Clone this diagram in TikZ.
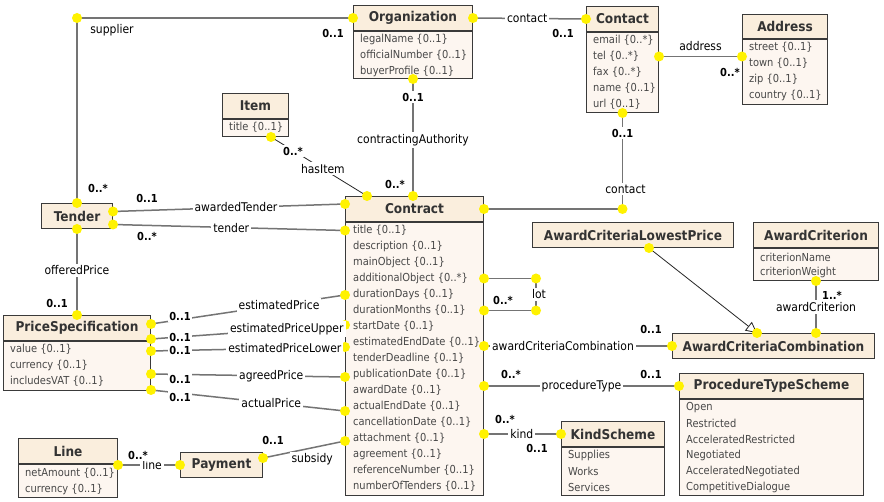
\documentclass[tikz,border=0pt]{standalone}
\usepackage{fontspec}
\setmainfont{DejaVu Sans}[FakeStretch=0.9]
\usetikzlibrary{calc,arrows.meta}

\definecolor{titlefill}{HTML}{FAEEDD}
\definecolor{bodyfill}{HTML}{FDF6F0}
\definecolor{edge}{HTML}{3A3A3A}
\definecolor{linkgray}{HTML}{747474}
\definecolor{dotyellow}{HTML}{FFF200}

\tikzset{
  clstitle/.style={draw=edge, fill=titlefill, line width=1pt, anchor=north west, inner sep=0pt,
    minimum height=25, text=black!80, font=\fontsize{13.5}{14}\selectfont\bfseries},
  clsbody/.style={draw=edge, fill=bodyfill, line width=1pt, anchor=north west, inner sep=0pt},
  attr/.style={anchor=west, inner sep=0pt, text=black!72, font=\fontsize{11}{12}\selectfont},
  assoc/.style={draw=linkgray, line width=1.5pt},
  thinlink/.style={draw=black!85, line width=0.8pt},
  role/.style={fill=white, inner sep=2pt, font=\fontsize{12}{13}\selectfont},
  mult/.style={fill=white, inner sep=1.5pt, font=\fontsize{11}{12}\selectfont\bfseries},
  handle/.style={circle, fill=dotyellow, inner sep=0pt, minimum size=10pt},
}

\begin{document}
\begin{tikzpicture}[x=1pt,y=-1pt]
  \fill[white] (0,0) rectangle (884,502);
  \useasboundingbox (0,0) rectangle (884,502);

  % classes
  \node[clstitle, minimum width=119] (org) at (353,5) {Organization};
  \node[clsbody, minimum width=119, minimum height=47] (org-b) at (org.south west) {};
  \foreach \a/\m [count=\i] in {legalName/1,officialNumber/1,buyerProfile/1}
    \node[attr] (org-\a) at ($(org-b.north west)+(7,{16*\i-7.5})$) {\a\ \{0..\m\}};

  \node[clstitle, minimum width=72] (cnt) at (586,6) {Contact};
  \node[clsbody, minimum width=72, minimum height=80] (cnt-b) at (cnt.south west) {};
  \foreach \a/\m [count=\i] in {email/*,tel/*,fax/*,name/1,url/1}
    \node[attr] (cnt-\a) at ($(cnt-b.north west)+(7,{16*\i-7.5})$) {\a\ \{0..\m\}};

  \node[clstitle, minimum width=85, minimum height=24] (adr) at (742,14) {Address};
  \node[clsbody, minimum width=85, minimum height=65] (adr-b) at (adr.south west) {};
  \foreach \a/\m [count=\i] in {street/1,town/1,zip/1,country/1}
    \node[attr] (adr-\a) at ($(adr-b.north west)+(7,{16*\i-7.5})$) {\a\ \{0..\m\}};

  \node[clstitle, minimum width=66] (item) at (222,93) {Item};
  \node[clsbody, minimum width=66, minimum height=17] (item-b) at (item.south west) {};
  \node[attr] (item-title) at ($(item-b.north west)+(7,8.5)$) {title \{0..1\}};

  \node[clstitle, minimum width=71] (tnd) at (41,203) {Tender};

  \node[clstitle, minimum width=147] (psp) at (3,315) {PriceSpecification};
  \node[clsbody, minimum width=147, minimum height=49] (psp-b) at (psp.south west) {};
  \foreach \a/\m [count=\i] in {value/1,currency/1,includesVAT/1}
    \node[attr] (psp-\a) at ($(psp-b.north west)+(7,{16*\i-7.5})$) {\a\ \{0..\m\}};

  \node[clstitle, minimum width=99] (line) at (18,438) {Line};
  \node[clsbody, minimum width=99, minimum height=33] (line-b) at (line.south west) {};
  \foreach \a/\m [count=\i] in {netAmount/1,currency/1}
    \node[attr] (line-\a) at ($(line-b.north west)+(7,{16*\i-7})$) {\a\ \{0..\m\}};

  \node[clstitle, minimum width=82] (pay) at (180,452) {Payment};

  \node[clstitle, minimum width=138] (con) at (345,196) {Contract};
  \node[clsbody, minimum width=138, minimum height=273] (con-b) at (con.south west) {};
  \foreach \a/\m [count=\i] in {title/1,description/1,mainObject/1,additionalObject/*,durationDays/1,
      durationMonths/1,startDate/1,estimatedEndDate/1,tenderDeadline/1,publicationDate/1,awardDate/1,
      actualEndDate/1,cancellationDate/1,attachment/1,agreement/1,referenceNumber/1,numberOfTenders/1}
    \node[attr] (con-\a) at ($(con-b.north west)+(8,{16*\i-7.5})$) {\a\ \{0..\m\}};

  \node[clstitle, minimum width=201] (aclp) at (532,222) {AwardCriteriaLowestPrice};

  \node[clstitle, minimum width=125] (acr) at (753,222) {AwardCriterion};
  \node[clsbody, minimum width=125, minimum height=32] (acr-b) at (acr.south west) {};
  \foreach \a [count=\i] in {criterionName,criterionWeight}
    \node[attr] (acr-\a) at ($(acr-b.north west)+(7,{15*\i-6})$) {\a};

  \node[clstitle, minimum width=202] (acc) at (672,333) {AwardCriteriaCombination};

  \node[clstitle, minimum width=184] (pts) at (679,373) {ProcedureTypeScheme};
  \node[clsbody, minimum width=184, minimum height=96] (pts-b) at (pts.south west) {};
  \foreach \a [count=\i] in {Open,Restricted,AcceleratedRestricted,Negotiated,AcceleratedNegotiated,CompetitiveDialogue}
    \node[attr] (pts-\a) at ($(pts-b.north west)+(7,{16*\i-7.5})$) {\a};

  \node[clstitle, minimum width=103] (knd) at (561,421) {KindScheme};
  \node[clsbody, minimum width=103, minimum height=48] (knd-b) at (knd.south west) {};
  \foreach \a [count=\i] in {Supplies,Works,Services}
    \node[attr] (knd-\a) at ($(knd-b.north west)+(7,{16*\i-8})$) {\a};

  % supplier
  \draw[assoc] (tnd.north) node[handle] (h-sup-a) {} |- (org.west) node[handle] (h-sup-c) {};
  \node[handle] (h-sup-b) at (tnd.north |- org.west) {};
  \node[role] (r-supplier) at ($(tnd.north |- org.west)+(35,12)$) {supplier};
  \node[mult] (m-sup-org) at ($(org.west)+(-20,16)$) {0..1};
  \node[mult] (m-sup-tnd) at ($(tnd.north)+(21,-15)$) {0..*};

  % contact (organization)
  \draw[assoc] (org.east) node[handle] (h-oc-a) {} -- (cnt.west) node[handle] (h-oc-b) {}
    node[role, pos=0.48] (r-oc) {contact};
  \node[mult] (m-oc) at ($(cnt.west)+(-23,14.5)$) {0..1};

  % address
  \draw[assoc] (cnt-b.east |- cnt-tel) node[handle] (h-adr-a) {} -- (adr-b.west |- cnt-tel) node[handle] (h-adr-b) {}
    node[role, pos=0.5, above=3pt] (r-adr) {address};
  \node[mult] (m-adr) at ($(adr-b.west |- cnt-tel)+(-12,16)$) {0..*};

  % contractingAuthority
  \draw[assoc] (org-b.south) node[handle] (h-ca-a) {} -- (org-b.south |- con.north) node[handle] (h-ca-b) {}
    node[role, pos=0.52] (r-ca) {contractingAuthority};
  \node[mult] (m-ca-org) at ($(org-b.south)+(0,18)$) {0..1};
  \node[mult] (m-ca-con) at ($(org-b.south |- con.north)+(-18,-12)$) {0..*};

  % hasItem
  \draw[thinlink] ($(item-b.south east)+(-18,0)$) node[handle] (h-hi-a) {} -- ($(con.north west)+(22,0)$) node[handle] (h-hi-b) {}
    node[role, pos=0.54] (r-hi) {hasItem};
  \node[mult] (m-hi) at ($(item-b.south east)+(4,14)$) {0..*};

  % contact (contract)
  \draw[assoc] (cnt-b.south) node[handle] (h-cc-a) {} |- (con.east) node[handle] (h-cc-c) {};
  \node[handle] (h-cc-b) at (cnt-b.south |- con.east) {};
  \node[role] (r-cc) at ($(cnt-b.south |- con.east)+(3,-20)$) {contact};
  \node[mult] (m-cc) at ($(cnt-b.south)+(0,20)$) {0..1};

  % awardedTender, tender
  \draw[assoc] ($(tnd.east)+(0,-4.5)$) node[handle] (h-at-a) {} -- ($(con.north west)+(0,8)$) node[handle] (h-at-b) {}
    node[role, pos=0.53] (r-at) {awardedTender};
  \node[mult] (m-at) at ($(tnd.east)+(34,-17.5)$) {0..1};
  \draw[assoc] ($(tnd.east)+(0,8.5)$) node[handle] (h-td-a) {} -- (con-b.west |- con-title) node[handle] (h-td-b) {}
    node[role, pos=0.51] (r-td) {tender};
  \node[mult] (m-td) at ($(tnd.east)+(34,20.5)$) {0..*};

  % offeredPrice
  \draw[assoc] (tnd.south) node[handle] (h-op-a) {} -- (psp.north) node[handle] (h-op-b) {}
    node[role, pos=0.48] (r-op) {offeredPrice};
  \node[mult] (m-op) at ($(psp.north)+(-20,-12)$) {0..1};

  % prices
  \foreach \r/\dy/\a/\cy/\my/\ps in {estimatedPrice/9/durationDays/0.5/1/0.66,
      estimatedPriceUpper/24/startDate/-1.5/22/0.7, estimatedPriceLower/36/estimatedEndDate/4.5/35/0.69,
      agreedPrice/59/publicationDate/2.5/64/0.62, actualPrice/75/actualEndDate/4.5/82/0.62} {
    \draw[assoc] ($(psp.north east)+(0,\dy)$) node[handle] (h-\r-a) {} -- ($(con-b.west |- con-\a)+(0,\cy)$) node[handle] (h-\r-b) {}
      node[role, pos=\ps] (r-\r) {\r};
    \node[mult] (m-\r) at ($(psp.north east)+(29,\my)$) {0..1};
  }

  % subsidy, line
  \draw[assoc] ($(pay.north east)+(0,6)$) node[handle] (h-sub-a) {} -- ($(con-b.west |- con-attachment)+(0,2.5)$) node[handle] (h-sub-b) {}
    node[role, pos=0.6, below=3pt] (r-sub) {subsidy};
  \node[mult] (m-sub) at ($(pay.north east)+(10,-12)$) {0..1};
  \draw[assoc] (line.east |- pay.west) node[handle] (h-ln-a) {} -- (pay.west) node[handle] (h-ln-b) {}
    node[role, pos=0.55] (r-ln) {line};
  \node[mult] (m-ln) at ($(line.east |- pay.west)+(20,-10)$) {0..*};

  % lot
  \coordinate (lot-a) at ($(con-b.east |- con-additionalObject)+(52,0)$);
  \coordinate (lot-b) at (lot-a |- con-durationMonths);
  \draw[assoc] (con-b.east |- con-additionalObject) node[handle] (h-lot-a) {} -- (lot-a) node[handle] (h-lot-b) {}
    -- (lot-b) node[handle] (h-lot-c) {} -- (con-b.east |- con-durationMonths) node[handle] (h-lot-d) {};
  \node[role] (r-lot) at ($(lot-a)!0.5!(lot-b)+(3,0)$) {lot};
  \node[mult] (m-lot) at ($(con-b.east |- con-durationMonths)+(19,-10)$) {0..*};

  % awardCriteriaCombination, procedureType, kind
  \draw[assoc] (con-b.east |- acc.west) node[handle] (h-acc-a) {} -- (acc.west) node[handle] (h-acc-b) {}
    node[role, pos=0.42] (r-acc) {awardCriteriaCombination};
  \node[mult] (m-acc) at ($(acc.west)+(-21,-16.5)$) {0..1};
  \draw[assoc] (con-b.east |- pts.west) node[handle] (h-pt-a) {} -- (pts.west) node[handle] (h-pt-b) {}
    node[role, pos=0.5] (r-pt) {procedureType};
  \node[mult] (m-pt-con) at ($(con-b.east |- pts.west)+(27,-12)$) {0..*};
  \node[mult] (m-pt-pts) at ($(pts.west)+(-28,-12)$) {0..1};
  \draw[assoc] (con-b.east |- knd.west) node[handle] (h-kd-a) {} -- (knd.west) node[handle] (h-kd-b) {}
    node[role, pos=0.49] (r-kd) {kind};
  \node[mult] (m-kd-con) at ($(con-b.east |- knd.west)+(21,-15)$) {0..*};
  \node[mult] (m-kd-knd) at ($(knd.west)+(-24,14)$) {0..1};

  % generalization, awardCriterion
  \draw[thinlink, -{Triangle[open, length=11pt, width=11pt]}] ($(aclp.south west)+(117,0)$) node[handle] (h-gen-a) {}
    -- ($(acc.north west)+(85,0)$) node[handle] (h-gen-b) {};
  \coordinate (ac-top) at ($(acr-b.south west)+(63,0)$);
  \draw[assoc] (ac-top) node[handle] (h-ac-a) {} -- (ac-top |- acc.north) node[handle] (h-ac-b) {}
    node[role, pos=0.5] (r-ac) {awardCriterion};
  \node[mult] (m-ac) at ($(ac-top)+(16,14)$) {1..*};
\end{tikzpicture}
\end{document}
